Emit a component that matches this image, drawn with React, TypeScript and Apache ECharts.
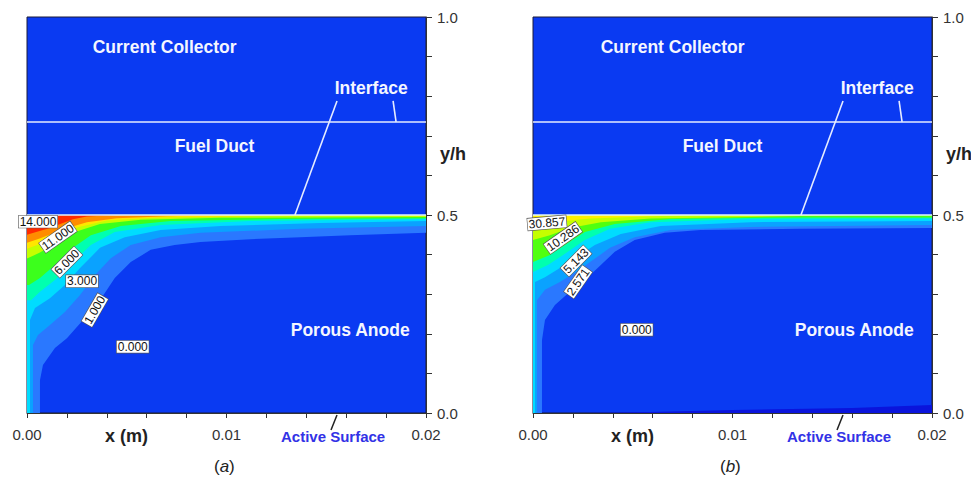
import React, { useEffect, useRef } from "react";
import * as echarts from "echarts";

// ---------- axis ticks ----------
const X_LABELS = [0, 0.01, 0.02];
const Y_LABELS = [0, 0.5, 1];

// ---------- panel (a): contour band boundaries [x (m), y/h] ----------
const A_LIGHT = [[0.00065, 0], [0.00065, 0.083], [0.0008, 0.121], [0.0014, 0.164], [0.002, 0.189], [0.0029, 0.24], [0.00366, 0.285], [0.0044, 0.341], [0.0052, 0.381], [0.0062, 0.412], [0.0074, 0.424], [0.0087, 0.432], [0.0112, 0.439], [0.0137, 0.444], [0.0162, 0.449], [0.02, 0.455]];
const A_SKY = [[0.0003, 0], [0.0003, 0.172], [0.00055, 0.197], [0.00115, 0.222], [0.0019, 0.255], [0.00266, 0.298], [0.0034, 0.348], [0.0042, 0.391], [0.0052, 0.424], [0.0067, 0.444], [0.0087, 0.455], [0.0137, 0.465], [0.02, 0.472]];
const A_CYAN = [[0.00015, 0], [0.00015, 0.235], [0.0004, 0.265], [0.00115, 0.29], [0.0019, 0.323], [0.00266, 0.366], [0.00366, 0.417], [0.0049, 0.444], [0.0067, 0.462], [0.0097, 0.472], [0.0147, 0.48], [0.02, 0.485]];
const A_AQUA = [[0.0002, 0.285], [0.00065, 0.306], [0.0014, 0.336], [0.00216, 0.374], [0.0032, 0.424], [0.0044, 0.457], [0.0067, 0.475], [0.0112, 0.485], [0.02, 0.49]];
const A_GREEN = [[0.0001, 0.323], [0.00065, 0.341], [0.0014, 0.374], [0.00216, 0.412], [0.0032, 0.449], [0.0047, 0.472], [0.0072, 0.485], [0.0127, 0.49], [0.02, 0.492]];
const A_LIME = [[0, 0.39], [0.00065, 0.405], [0.0014, 0.428], [0.0024, 0.457], [0.00366, 0.477], [0.0057, 0.488], [0.0097, 0.493], [0.02, 0.495]];
const A_YELLOW = [[0, 0.415], [0.0007, 0.428], [0.0015, 0.447], [0.0026, 0.47], [0.004, 0.486], [0.0065, 0.493], [0.011, 0.497], [0.016, 0.5]];
const A_ORANGE = [[0, 0.43], [0.0006, 0.44], [0.0014, 0.455], [0.0022, 0.47], [0.003, 0.482], [0.0045, 0.492], [0.007, 0.497], [0.01, 0.5]];
const A_RED = [[0, 0.45], [0.0005, 0.458], [0.0012, 0.468], [0.0017, 0.478], [0.0023, 0.489], [0.003, 0.496], [0.0045, 0.5]];

// ---------- panel (b) ----------
const B_LIGHT = [[0.00045, 0], [0.00045, 0.184], [0.0006, 0.235], [0.0011, 0.273], [0.00185, 0.306], [0.0026, 0.336], [0.0034, 0.374], [0.0041, 0.407], [0.0051, 0.437], [0.0066, 0.455], [0.0084, 0.462], [0.0134, 0.465], [0.02, 0.467]];
const B_SKY = [[0.0002, 0], [0.0002, 0.285], [0.0006, 0.311], [0.00135, 0.331], [0.0021, 0.354], [0.00286, 0.381], [0.00386, 0.417], [0.0051, 0.444], [0.0069, 0.462], [0.0109, 0.47], [0.02, 0.475]];
const B_CYAN = [[0.0001, 0], [0.0001, 0.331], [0.0006, 0.343], [0.00135, 0.366], [0.0021, 0.391], [0.0031, 0.424], [0.0044, 0.452], [0.0064, 0.472], [0.0109, 0.482], [0.02, 0.485]];
const B_AQUA = [[0, 0.356], [0.00075, 0.374], [0.0016, 0.402], [0.0026, 0.437], [0.00386, 0.465], [0.0059, 0.482], [0.0109, 0.49], [0.02, 0.491]];
const B_GREEN = [[0, 0.381], [0.00085, 0.399], [0.0016, 0.424], [0.0026, 0.457], [0.0041, 0.477], [0.0069, 0.49], [0.0134, 0.494], [0.02, 0.494]];
const B_LIME = [[0, 0.437], [0.00085, 0.449], [0.00185, 0.467], [0.0034, 0.482], [0.0059, 0.491], [0.0109, 0.495], [0.016, 0.5]];
const B_YELLOW = [[0, 0.467], [0.0006, 0.475], [0.0016, 0.485], [0.00286, 0.491], [0.0049, 0.495], [0.008, 0.5]];
const B_DEEP = [[0.0025, 0], [0.0059, 0.0025], [0.01, 0.0076], [0.016, 0.0126], [0.02, 0.02]];

const BAND_COLORS = ["#2a78ff", "#0aa2ff", "#00dcff", "#00ffb0", "#3cff1c", "#c4ff00", "#ffe600", "#ff8c00", "#ff2a00"];
const BAND_COLORS_B = ["#2a78ff", "#0aa2ff", "#00dcff", "#00ffb0", "#50ff10", "#c4ff00", "#fff000"];

// ---------- contour labels [x, y, text, rotation deg] ----------
const A_LEVELS: [number, number, string, number][] = [
  [0.00055, 0.483, "14.000", 0],
  [0.00155, 0.444, "11.000", 35],
  [0.002, 0.381, "6.000", 45],
  [0.00276, 0.333, "3.000", 0],
  [0.0034, 0.26, "1.000", 60],
  [0.0053, 0.167, "0.000", 0],
];
const B_LEVELS: [number, number, string, number][] = [
  [0.0007, 0.48, "30.857", 5],
  [0.0015, 0.442, "10.286", 35],
  [0.00216, 0.384, "5.143", 45],
  [0.00226, 0.331, "2.571", 55],
  [0.0052, 0.21, "0.000", 0],
];

// ---------- region names [x, y, text] ----------
const REGIONS: [number, number, string][] = [
  [0.0069, 0.924, "Current Collector"],
  [0.0094, 0.674, "Fuel Duct"],
  [0.0162, 0.21, "Porous Anode"],
  [0.01725, 0.82, "Interface"],
];
const REGIONS_B: [number, number, string][] = [
  [0.007, 0.924, "Current Collector"],
  [0.0095, 0.674, "Fuel Duct"],
  [0.0161, 0.21, "Porous Anode"],
  [0.01725, 0.82, "Interface"],
];

// ---------- white lines [x1, y1, x2, y2] ----------
const INTERFACE_LINES = [
  [0, 0.735, 0.02, 0.735],
  [0, 0.5, 0.02, 0.5],
  [0.01554, 0.788, 0.01343, 0.5],
  [0.01835, 0.788, 0.0185, 0.735],
];

const BLUE = "#0a3af2";

function closeBand(pts: number[][]) {
  const first = pts[0];
  const last = pts[pts.length - 1];
  return [[0, first[1]], ...pts, [last[0], 0.5], [0, 0.5]];
}

function bandSeries(idx: number, bands: number[][][], colors: string[]) {
  return {
    type: "custom",
    xAxisIndex: idx,
    yAxisIndex: idx,
    silent: true,
    clip: true,
    data: bands.map((_, i) => [i]),
    renderItem: (params: any, api: any) => {
      const pts = closeBand(bands[params.dataIndex]).map((p) => api.coord(p));
      return { type: "polygon", shape: { points: pts }, style: { fill: colors[params.dataIndex] } };
    },
  };
}

function deepSeries(idx: number, pts: number[][]) {
  return {
    type: "custom",
    xAxisIndex: idx,
    yAxisIndex: idx,
    silent: true,
    clip: true,
    data: [[0]],
    renderItem: (params: any, api: any) => {
      const poly = [...pts, [0.02, 0]].map((p) => api.coord(p));
      return { type: "polygon", shape: { points: poly }, style: { fill: "#0a14dc" } };
    },
  };
}

function lineSeries(idx: number) {
  return {
    type: "custom",
    xAxisIndex: idx,
    yAxisIndex: idx,
    silent: true,
    clip: true,
    data: INTERFACE_LINES.map((_, i) => [i]),
    renderItem: (params: any, api: any) => {
      const l = INTERFACE_LINES[params.dataIndex];
      const a = api.coord([l[0], l[1]]);
      const b = api.coord([l[2], l[3]]);
      return {
        type: "line",
        shape: { x1: a[0], y1: a[1], x2: b[0], y2: b[1] },
        style: { stroke: params.dataIndex === 1 ? "#dff4ff" : "#e6ecff", lineWidth: 1.6 },
      };
    },
  };
}

function levelSeries(idx: number, levels: [number, number, string, number][]) {
  return {
    type: "custom",
    xAxisIndex: idx,
    yAxisIndex: idx,
    silent: true,
    clip: false,
    data: levels.map((_, i) => [i]),
    renderItem: (params: any, api: any) => {
      const [x, y, t, r] = levels[params.dataIndex];
      const p = api.coord([x, y]);
      return {
        type: "text",
        x: p[0],
        y: p[1],
        rotation: (r * Math.PI) / 180,
        style: {
          text: t,
          fill: "#111",
          font: "12px Arial",
          align: "center",
          verticalAlign: "middle",
          backgroundColor: "#ffffff",
          borderColor: "#555",
          borderWidth: 0.6,
          padding: [0, 1, 0, 1],
        },
      };
    },
  };
}

function regionSeries(idx: number, regions: [number, number, string][]) {
  return {
    type: "custom",
    xAxisIndex: idx,
    yAxisIndex: idx,
    silent: true,
    clip: false,
    data: regions.map((_, i) => [i]),
    renderItem: (params: any, api: any) => {
      const [x, y, t] = regions[params.dataIndex];
      const p = api.coord([x, y]);
      return {
        type: "text",
        x: p[0],
        y: p[1],
        style: { text: t, fill: "#f4f6ff", font: "bold 17.5px Arial", align: "center", verticalAlign: "middle" },
      };
    },
  };
}

const near = (v: number, arr: number[]) => arr.some((a) => Math.abs(a - v) < 1e-9);

function xAxis(idx: number) {
  return {
    type: "value",
    gridIndex: idx,
    min: 0,
    max: 0.02,
    interval: 0.002,
    splitLine: { show: false },
    axisLine: { show: true, onZero: false, lineStyle: { color: "#333", width: 1 } },
    axisTick: { show: true, inside: false, length: 5, lineStyle: { color: "#333" } },
    axisLabel: {
      show: true,
      margin: 14,
      color: "#333",
      fontSize: 15,
      fontFamily: "Arial",
      showMinLabel: true,
      showMaxLabel: true,
      formatter: (v: number) => (near(v, X_LABELS) ? v.toFixed(2) : ""),
    },
  };
}

function yAxis(idx: number) {
  return {
    type: "value",
    gridIndex: idx,
    position: "right",
    min: 0,
    max: 1,
    interval: 0.1,
    splitLine: { show: false },
    axisLine: { show: true, onZero: false, lineStyle: { color: "#333", width: 1 } },
    axisTick: { show: true, inside: false, length: 6, lineStyle: { color: "#333" } },
    axisLabel: {
      show: true,
      margin: 11,
      color: "#333",
      fontSize: 15,
      fontFamily: "Arial",
      formatter: (v: number) => (near(v, Y_LABELS) ? v.toFixed(1) : ""),
    },
  };
}

function outerTexts(dx: number, tag: string) {
  return [
    { type: "text", left: 105 + dx, top: 427, style: { text: "x (m)", font: "bold 18px Arial", fill: "#222" } },
    { type: "text", left: 440 + dx, top: 145, style: { text: "y/h", font: "bold 18px Arial", fill: "#222" } },
    { type: "text", left: 281 + dx, top: 429, style: { text: "Active Surface", font: "bold 15px Arial", fill: "#3232e6" } },
    { type: "line", shape: { x1: 331 + dx, y1: 430, x2: 337 + dx, y2: 415 }, style: { stroke: "#222", lineWidth: 1.5 } },
    {
      type: "text",
      left: 214 + dx,
      top: 458,
      style: {
        text: "({i|" + tag + "})",
        font: "17px Arial",
        fill: "#222",
        rich: { i: { fontStyle: "italic", fontSize: 17, fontFamily: "Arial", fill: "#222" } },
      },
    },
  ];
}

export default function App() {
  const ref = useRef<HTMLDivElement>(null);
  useEffect(() => {
    if (!ref.current) return;
    const chart = echarts.init(ref.current, undefined, { renderer: "svg" });
    const grid = (left: number) => ({
      left,
      top: 17,
      width: 399,
      height: 396,
      show: true,
      backgroundColor: BLUE,
      borderColor: "#1b1b3a",
      borderWidth: 1,
    });
    chart.setOption({
      animation: false,
      backgroundColor: "#ffffff",
      grid: [grid(27), grid(533)],
      xAxis: [xAxis(0), xAxis(1)],
      yAxis: [yAxis(0), yAxis(1)],
      series: [
        bandSeries(0, [A_LIGHT, A_SKY, A_CYAN, A_AQUA, A_GREEN, A_LIME, A_YELLOW, A_ORANGE, A_RED], BAND_COLORS),
        bandSeries(1, [B_LIGHT, B_SKY, B_CYAN, B_AQUA, B_GREEN, B_LIME, B_YELLOW], BAND_COLORS_B),
        deepSeries(1, B_DEEP),
        lineSeries(0),
        lineSeries(1),
        regionSeries(0, REGIONS),
        regionSeries(1, REGIONS_B),
        levelSeries(0, A_LEVELS),
        levelSeries(1, B_LEVELS),
      ],
      graphic: [...outerTexts(0, "a"), ...outerTexts(506, "b")],
    });
    return () => chart.dispose();
  }, []);
  return (
    <div
      ref={ref}
      style={{ position: "fixed", left: 0, top: 0, width: 971, height: 487, background: "#fff" }}
    />
  );
}
